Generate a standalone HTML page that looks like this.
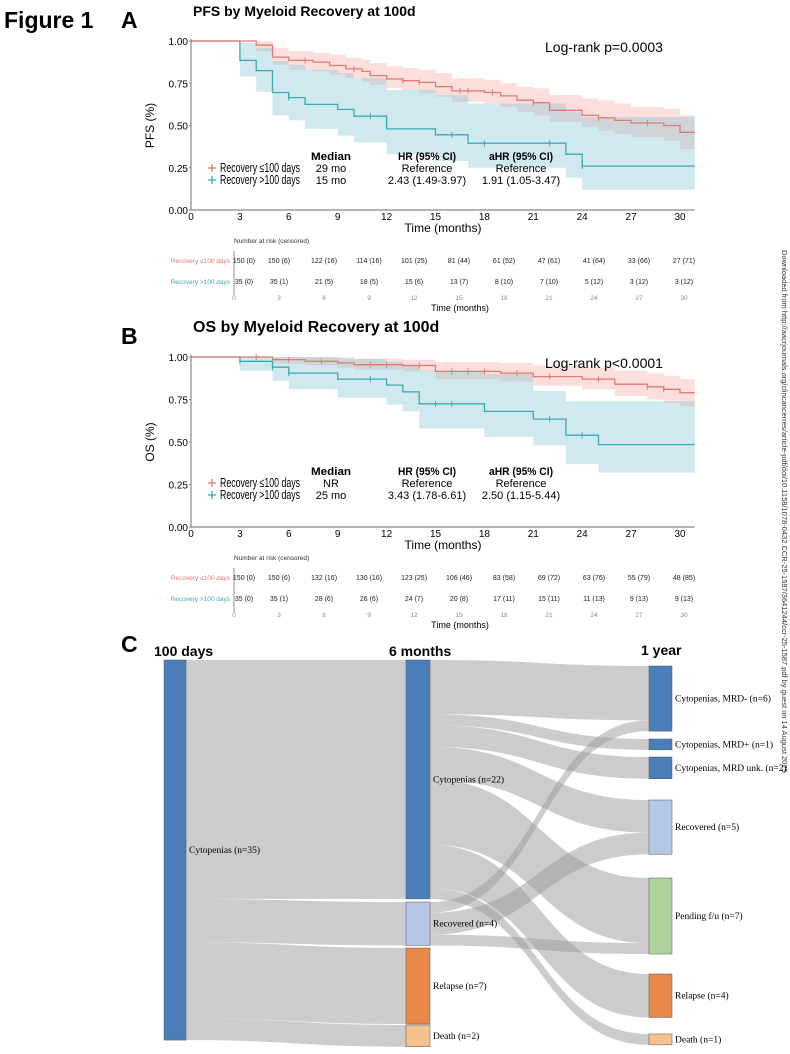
<!DOCTYPE html>
<html><head><meta charset="utf-8">
<style>
html,body{margin:0;padding:0;background:#fff;}
svg{display:block;font-family:"Liberation Sans",sans-serif;}
.serif{font-family:"Liberation Serif",serif;}
</style></head>
<body>
<svg id="fig" width="790" height="1054" viewBox="0 0 790 1054">
<text x="4" y="28" font-size="23" font-weight="bold">Figure 1</text>
<text x="121" y="28" font-size="23" font-weight="bold">A</text>
<text x="193" y="16" font-size="14" font-weight="bold">PFS by Myeloid Recovery at 100d</text>
<text x="121" y="344" font-size="23" font-weight="bold">B</text>
<text x="193" y="332" font-size="16" font-weight="bold">OS by Myeloid Recovery at 100d</text>
<text x="121" y="652" font-size="23" font-weight="bold">C</text>
<text x="154" y="656" font-size="14" font-weight="bold">100 days</text>
<text x="389" y="656" font-size="14" font-weight="bold">6 months</text>
<text x="641" y="655" font-size="14" font-weight="bold">1 year</text>
<text transform="translate(782,250) rotate(90)" font-size="7.5" fill="#333">Downloaded from http://aacrjournals.org/clincancerres/article-pdf/doi/10.1158/1078-0432.CCR-25-1587/3641244/ccr-25-1587.pdf by guest on 14 August 2025</text>
<g id="pfs"></g><g id="os"></g><g id="sankey"></g>
</svg>
<script>
// ---- PFS data ----
const pfsRedT=[4,5,6,7.5,8.5,9.5,10.5,11,12,13,14,15,16,18,19,20,21,22,24,25,26,27,29,30];
const pfsRedS=[.975,.905,.885,.875,.855,.835,.82,.795,.775,.765,.755,.73,.705,.695,.675,.65,.635,.59,.56,.545,.53,.515,.50,.46];
const pfsRedLo=[.94,.86,.83,.82,.80,.78,.76,.74,.72,.71,.69,.67,.64,.63,.61,.58,.56,.52,.49,.47,.45,.43,.41,.36];
const pfsRedHi=[1,.96,.94,.93,.92,.90,.89,.87,.85,.84,.83,.81,.78,.77,.75,.73,.72,.68,.66,.65,.63,.61,.60,.56];
const pfsRedCens=[7,10,13,14,16.5,17,18.5,21,25,28];
const pfsTealT=[3,4,5,6,7,9,10,12,15,17,23,24];
const pfsTealS=[.885,.825,.695,.665,.625,.595,.555,.48,.445,.395,.33,.26];
const pfsTealLo=[.79,.70,.56,.53,.48,.44,.40,.33,.29,.25,.19,.12];
const pfsTealHi=[.99,.96,.88,.86,.83,.81,.78,.71,.68,.63,.58,.55];
const pfsTealCens=[6,11,16,18,22,24];
// ---- OS data ----
const osRedT=[5,7,9,10,13,15,19,21,24,26,28,29,30];
const osRedS=[.985,.975,.965,.955,.95,.915,.905,.885,.87,.84,.825,.81,.79];
const osRedLo=[.96,.95,.935,.925,.915,.87,.855,.83,.81,.77,.75,.73,.71];
const osRedHi=[1,1,1,.99,.985,.97,.965,.95,.94,.92,.905,.89,.87];
const osRedCens=[4,6,8,11,12,14,16,17,18,20,22,25,28,29];
const osTealT=[3,5,6,9,12,13,14,18,21,23,25];
const osTealS=[.975,.94,.905,.87,.835,.795,.725,.68,.635,.54,.485];
const osTealLo=[.92,.86,.81,.76,.72,.68,.58,.53,.48,.37,.32];
const osTealHi=[1,1,1,.99,.97,.95,.92,.90,.80,.74,.74];
const osTealCens=[3,5,6,11,15,16,22,24];
// ---- risk tables ----
const riskTimes=[0,3,6,9,12,15,18,21,24,27,30];
const pfsRiskRed=["150 (0)","150 (6)","122 (16)","114 (16)","101 (25)","81 (44)","61 (52)","47 (61)","41 (64)","33 (66)","27 (71)"];
const pfsRiskTeal=["35 (0)","35 (1)","21 (5)","18 (5)","15 (6)","13 (7)","8 (10)","7 (10)","5 (12)","3 (12)","3 (12)"];
const osRiskRed=["150 (0)","150 (6)","132 (16)","130 (16)","123 (25)","106 (46)","83 (58)","69 (72)","63 (76)","55 (79)","48 (85)"];
const osRiskTeal=["35 (0)","35 (1)","28 (6)","26 (6)","24 (7)","20 (8)","17 (11)","15 (11)","11 (13)","9 (13)","9 (13)"];
const xTicks=[0,3,6,9,12,15,18,21,24,27,30];
const yTicks=[0,0.25,0.5,0.75,1];
const yTickLabels=["0.00","0.25","0.50","0.75","1.00"];
// ---- sankey data ----
const nodes100=[{name:"Cytopenias (n=35)",n:35}];
const nodes6=[{name:"Cytopenias (n=22)",n:22},{name:"Recovered (n=4)",n:4},{name:"Relapse (n=7)",n:7},{name:"Death (n=2)",n:2}];
const nodes1y=[{name:"Cytopenias, MRD- (n=6)",n:6},{name:"Cytopenias, MRD+ (n=1)",n:1},{name:"Cytopenias, MRD unk. (n=2)",n:2},{name:"Recovered (n=5)",n:5},{name:"Pending f/u (n=7)",n:7},{name:"Relapse (n=4)",n:4},{name:"Death (n=1)",n:1}];
const flowsA=[[0,0,22],[0,1,4],[0,2,7],[0,3,2]];
const flowsB=[[0,0,5],[0,1,1],[0,2,2],[0,3,3],[0,4,6],[0,5,4],[0,6,1],[1,0,1],[1,3,2],[1,4,1]];

const NS="http://www.w3.org/2000/svg";
function mk(parent,tag,attrs){const e=document.createElementNS(NS,tag);for(const k in attrs)e.setAttribute(k,attrs[k]);parent.appendChild(e);return e;}
function txt(parent,x,y,s,attrs){const e=mk(parent,"text",Object.assign({x:x,y:y},attrs||{}));e.textContent=s;return e;}

function drawKM(g,cfg){
  const x=t=>cfg.x0+t*16.3, y=s=>cfg.y1+(1-s)*(cfg.y0-cfg.y1);
  const tEnd=30.9;
  function band(T,Lo,Hi,fill,name){
    let top=[],bot=[];let pl=1,ph=1;
    T.forEach((t,i)=>{top.push([t,ph],[t,Hi[i]]);bot.push([t,pl],[t,Lo[i]]);pl=Lo[i];ph=Hi[i];});
    top.push([tEnd,ph]);bot.push([tEnd,pl]);
    const pts=top.concat(bot.reverse()).map(p=>x(p[0]).toFixed(1)+","+y(p[1]).toFixed(1)).join(" ");
    const p=mk(g,"polygon",{points:pts,fill:fill});
    
    
  }
  function step(T,S,col,name){
    let d="M"+x(0)+","+y(1);let prev=1;
    T.forEach((t,i)=>{d+=" L"+x(t).toFixed(1)+","+y(prev).toFixed(1)+" L"+x(t).toFixed(1)+","+y(S[i]).toFixed(1);prev=S[i];});
    d+=" L"+x(tEnd).toFixed(1)+","+y(prev).toFixed(1);
    const p=mk(g,"path",{d:d,fill:"none",stroke:col,"stroke-width":1.3});
    
    
  }
  function cens(T,S,C,col,name){
    C.forEach(c=>{let s=1;T.forEach((t,i)=>{if(t<=c)s=S[i];});
      const l=mk(g,"line",{x1:x(c),x2:x(c),y1:y(s)-3,y2:y(s)+3,stroke:col,"stroke-width":1});
      
      });
  }
  band(cfg.redT,cfg.redLo,cfg.redHi,"rgba(246,170,163,0.38)","red-ci-band");
  band(cfg.tealT,cfg.tealLo,cfg.tealHi,"rgba(125,195,212,0.36)","teal-ci-band");
  step(cfg.tealT,cfg.tealS,"#3aaab5","teal-survival-curve");
  step(cfg.redT,cfg.redS,"#e07a72","red-survival-curve");
  cens(cfg.redT,cfg.redS,cfg.redC,"#e07a72","red-censor-mark");
  cens(cfg.tealT,cfg.tealS,cfg.tealC,"#3aaab5","teal-censor-mark");
  const ax=mk(g,"path",{d:`M${cfg.x0},${cfg.y1-2} V${cfg.y0} H${x(tEnd)}`,fill:"none",stroke:"#888","stroke-width":1.2});
  
  
  yTicks.forEach((v,i)=>{
    const t=txt(g,cfg.x0-3,y(v)+4,yTickLabels[i],{"font-size":10,"text-anchor":"end"});
    
    
    mk(g,"line",{x1:cfg.x0-2,x2:cfg.x0,y1:y(v),y2:y(v),stroke:"#888"});
  });
  xTicks.forEach(v=>{
    const t=txt(g,x(v),cfg.y0+10,String(v),{"font-size":10,"text-anchor":"middle"});
    
    
  });
  const xt=txt(g,443,cfg.y0+22,"Time (months)",{"font-size":12,"text-anchor":"middle"});
  
  
  const yt=txt(g,0,0,cfg.ylab,{"font-size":12,"text-anchor":"middle",transform:`translate(${cfg.x0-37},${(cfg.y0+cfg.y1)/2}) rotate(-90)`});
  
  
  const lr=txt(g,545,cfg.y1+11,cfg.logrank,{"font-size":14});
  
  
  const ly=cfg.legY;
  [["Median",331,40],["HR (95% CI)",427,58],["aHR (95% CI)",521,64]].forEach(h=>{
    const t=txt(g,h[1]-h[2]/2,ly,h[0],{"font-size":11,"font-weight":"bold",textLength:h[2],lengthAdjust:"spacingAndGlyphs"});
    });
  const rows=[["#e07a72","Recovery \u2264100 days",cfg.med[0],"Reference","Reference"],["#3aaab5","Recovery >100 days",cfg.med[1],cfg.hr,cfg.ahr]];
  rows.forEach((r,i)=>{
    const yy=ly+12+i*12;
    mk(g,"line",{x1:208,x2:216,y1:yy-4,y2:yy-4,stroke:r[0],"stroke-width":1.3});
    mk(g,"line",{x1:212,x2:212,y1:yy-8,y2:yy,stroke:r[0],"stroke-width":1.3});
    const t=txt(g,220,yy,r[1],{"font-size":12.5,textLength:i===0?80:80,lengthAdjust:"spacingAndGlyphs"});
    txt(g,331,yy,r[2],{"font-size":11,"text-anchor":"middle"});
    txt(g,427,yy,r[3],{"font-size":11,"text-anchor":"middle"});
    txt(g,521,yy,r[4],{"font-size":11,"text-anchor":"middle"});
  });
  const rx=t=>234+t*15, ry=cfg.riskY;
  const hdr=txt(g,234,ry,"Number at risk (censored)",{"font-size":6.5,fill:"#333"});
  
  mk(g,"line",{x1:234,x2:234,y1:ry+8,y2:ry+52,stroke:"#777","stroke-width":0.8});
  [[cfg.riskRed,"#e07a72","Recovery \u2264100 days",ry+20],[cfg.riskTeal,"#3aaab5","Recovery >100 days",ry+41]].forEach(r=>{
    const l=txt(g,230,r[3],r[2],{"font-size":6.5,fill:r[1],"text-anchor":"end"});
    
    r[0].forEach((v,i)=>{const t=riskTimes[i];const cx=t===0?rx(0)+10:rx(t);
      const e=txt(g,cx,r[3],v,{"font-size":7,"text-anchor":"middle",fill:"#222"});
      });
  });
  riskTimes.forEach(t=>{const e=txt(g,rx(t),ry+57,String(t),{"font-size":6.5,"text-anchor":"middle",fill:"#888"});
    });
  const rt=txt(g,460,ry+68,"Time (months)",{"font-size":9,"text-anchor":"middle"});
  
}
drawKM(document.getElementById("pfs"),{x0:191,y1:41,y0:210,ylab:"PFS (%)",logrank:"Log-rank p=0.0003",
 redT:pfsRedT,redS:pfsRedS,redLo:pfsRedLo,redHi:pfsRedHi,redC:pfsRedCens,
 tealT:pfsTealT,tealS:pfsTealS,tealLo:pfsTealLo,tealHi:pfsTealHi,tealC:pfsTealCens,
 legY:160,med:["29 mo","15 mo"],hr:"2.43 (1.49-3.97)",ahr:"1.91 (1.05-3.47)",riskY:243,riskRed:pfsRiskRed,riskTeal:pfsRiskTeal});
drawKM(document.getElementById("os"),{x0:191,y1:357,y0:527,ylab:"OS (%)",logrank:"Log-rank p<0.0001",
 redT:osRedT,redS:osRedS,redLo:osRedLo,redHi:osRedHi,redC:osRedCens,
 tealT:osTealT,tealS:osTealS,tealLo:osTealLo,tealHi:osTealHi,tealC:osTealCens,
 legY:475,med:["NR","25 mo"],hr:"3.43 (1.78-6.61)",ahr:"2.50 (1.15-5.44)",riskY:560,riskRed:osRiskRed,riskTeal:osRiskTeal});

(function(){
  const g=document.getElementById("sankey");
  const k=10.86;
  const col1y=["#4a7fba","#4a7fba","#4a7fba","#b4c8e6","#acd49a","#e8894a","#f5c28e"];
  const col6=["#4a7fba","#b4c8e6","#e8894a","#f5c28e"];
  const pos100=[660];
  const pos6=[660,902,948,1025];
  const pos1y=[666,739,757,800,878,974,1034];
  function link(x1,y1,x2,y2,h){
    const mx=(x1+x2)/2;
    const d=`M${x1},${y1} C${mx},${y1} ${mx},${y2} ${x2},${y2} L${x2},${y2+h} C${mx},${y2+h} ${mx},${y1+h} ${x1},${y1+h} Z`;
    const p=mk(g,"path",{d:d,fill:"#9a9a9a","fill-opacity":0.5});
    
    
  }
  let so=[0],to=pos6.map(()=>0);
  flowsA.forEach(f=>{const h=f[2]*k;link(186,pos100[f[0]]+so[f[0]],406,pos6[f[1]]+to[f[1]],h);so[f[0]]+=h;to[f[1]]+=h;});
  so=pos6.map(()=>0);to=pos1y.map(()=>0);
  flowsB.forEach(f=>{const h=f[2]*k;link(430,pos6[f[0]]+so[f[0]],649,pos1y[f[1]]+to[f[1]],h);so[f[0]]+=h;to[f[1]]+=h;});
  function node(x,w,y,n,c,label,name){
    const r=mk(g,"rect",{x:x,y:y,width:w,height:n*k,fill:c,stroke:"#555","stroke-width":0.5});
    
    
    const t=txt(g,x+w+3,y+n*k/2+3,label,{"font-size":9.5,"class":"serif"});
    
    
  }
  nodes100.forEach((nd,i)=>node(164,22,pos100[i],nd.n,"#4a7fba",nd.name,"node-100d"));
  nodes6.forEach((nd,i)=>node(406,24,pos6[i],nd.n,col6[i],nd.name,"node-6mo"));
  nodes1y.forEach((nd,i)=>node(649,23,pos1y[i],nd.n,col1y[i],nd.name,"node-1yr"));
})();
</script>
</body></html>
